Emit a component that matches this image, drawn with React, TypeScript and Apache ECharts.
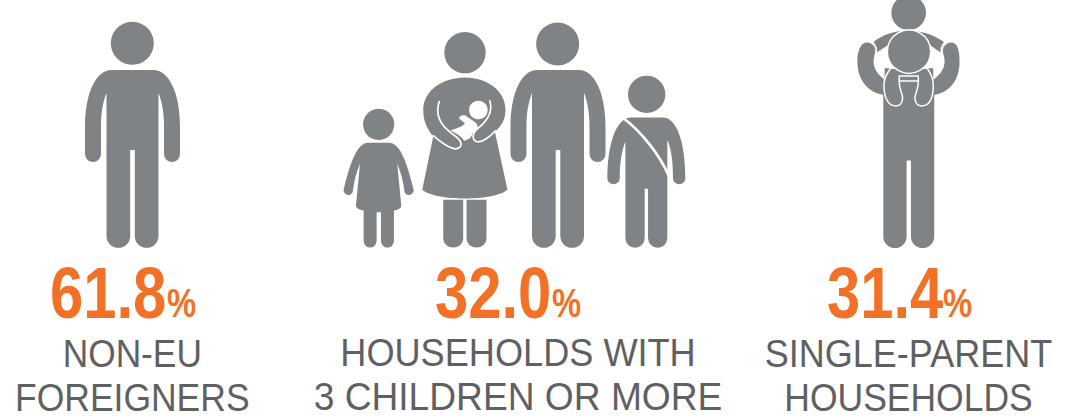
import React, { useEffect, useRef } from "react";
import * as echarts from "echarts";

const values = [61.8, 32.0, 31.4];
const unit = "%";
const labelsLine1 = ["NON-EU", "HOUSEHOLDS WITH", "SINGLE-PARENT"];
const labelsLine2 = ["FOREIGNERS", "3 CHILDREN OR MORE", "HOUSEHOLDS"];

const GREY = "#808385";
const ORANGE = "#f37126";
const TEXT = "#5f6062";
const WHITE = "#ffffff";

const numberX = [50, 435, 827];
const unitX = [167, 552, 943];
const labelCx = [132.3, 518, 908.5];
const line1Y = 353;
const line2Y = 397;
const line1Scale = [0.905, 0.927, 0.924];
const line2Scale = [0.91, 0.953, 0.91];

const ADULT =
  "M-21 70 L21 70 C36 70 47.5 92 47.5 127 L47.5 154 A8 8 0 0 1 31.5 154 L31.5 125 C31.5 112 29 100 26 93 L26 236 A11.85 11.85 0 0 1 2.3 236 L2.3 150 L-2.3 150 L-2.3 236 A11.85 11.85 0 0 1 -26 236 L-26 93 C-29 100 -31.5 112 -31.5 125 L-31.5 154 A8 8 0 0 1 -47.5 154 L-47.5 127 C-47.5 92 -36 70 -21 70 Z";
const GIRL =
  "M100 384 L162 384 C195 384 215 440 235 520 A13 13 0 0 1 209 532 C205 500 197 470 187 447 L199 572 Q200 583 177 587 L177 679 A19.5 19.5 0 0 1 138 679 L138 592 L125 592 L125 679 A19.5 19.5 0 0 1 86 679 L86 587 Q62 583 63 572 L75 447 C65 470 57 500 53 532 A13 13 0 0 1 27 520 C47 440 67 384 100 384 Z";
const MOTHER =
  "M390 188 C460 188 512 230 512 285 C512 315 498 335 480 350 L518 525 C480 560 300 560 262 525 L295 365 C275 340 265 315 265 285 C265 230 320 188 390 188 Z";
const MOTHER_LEGS =
  "M325 555 L385 555 L385 672 A30 26 0 0 1 325 672 Z M395 555 L455 555 L455 672 A30 26 0 0 1 395 672 Z";
const MOTHER_ARM_L = "M313 260 C300 300 315 330 350 355 C365 365 382 380 378 392 C370 410 345 405 295 362";
const MOTHER_ARM_R = "M465 258 C475 290 460 315 430 340 C412 355 410 375 425 380 C440 385 465 365 482 348";
const BABY =
  "M372 310 Q378 298 392 302 L425 325 L430 340 C415 350 410 365 405 370 L388 378 C380 365 365 355 347 347 C365 340 385 335 390 325 Z";
const BOY =
  "M890 308 L985 308 C1025 308 1052 380 1052 490 A18.5 18.5 0 0 1 1015 490 C1015 440 1010 400 998 375 L998 670 A29 29 0 0 1 940 670 L940 522 L930 522 L930 670 A29 29 0 0 1 872 670 L872 380 C860 410 855 450 855 490 A18.5 18.5 0 0 1 818 490 C818 400 840 308 890 308 Z";
const BOY_SASH = "M866 310 C920 350 975 420 1002 482";
const BOY_SLIT = "M866 420 L864 492";
const LIFT_BODY =
  "M100 285 C60 280 22 245 22 185 C22 160 30 128 50 128 C70 128 80 145 74 165 C66 190 72 215 104 240 L104 205 L250 205 L250 240 C283 215 289 190 281 165 C275 145 285 128 305 128 C325 128 329 160 329 185 C329 245 295 280 253 285 L253 710 A35 35 0 0 1 183 710 L183 482 L170 482 L170 710 A35 35 0 0 1 100 710 Z";
const LIFT_ARCH = "M68 128 C100 100 140 92 177 92 C215 92 255 105 285 128 L272 158 L240 135 L115 135 L80 158 Z";
const LIFT_GAP = "M68 126 C80 140 82 150 76 168 M285 126 C273 140 271 150 277 168";
const LIFT_LEGS =
  "M122 205 C108 225 100 240 102 265 C105 300 118 318 138 318 C155 318 162 300 155 280 C148 262 146 250 148 228 L205 228 C207 250 205 262 198 280 C191 300 198 318 215 318 C235 318 248 300 250 265 C252 240 245 225 232 205 Z";
const LIFT_BAND = "M148 243 L205 243";

const shapes: Record<string, string> = {
  adult: ADULT, girl: GIRL, mother: MOTHER, motherLegs: MOTHER_LEGS,
  mArmL: MOTHER_ARM_L, mArmR: MOTHER_ARM_R, baby: BABY, boy: BOY,
  sash: BOY_SASH, slit: BOY_SLIT, liftBody: LIFT_BODY, liftArch: LIFT_ARCH,
  liftGap: LIFT_GAP, liftLegs: LIFT_LEGS, liftBand: LIFT_BAND,
};
Object.keys(shapes).forEach((k) => {
  echarts.graphic.registerShape(k, echarts.graphic.extendPath(shapes[k], {}) as any);
});

const fill = (type: string, x: number, y: number, s = 1) => ({
  type, x, y, scaleX: s, scaleY: s, silent: true, style: { fill: GREY },
});
const line = (type: string, x: number, y: number, s: number, w: number, color = WHITE) => ({
  type, x, y, scaleX: s, scaleY: s, silent: true,
  style: { fill: "none", stroke: color, lineWidth: w, lineCap: "round" },
});
const disc = (cx: number, cy: number, r: number, color = GREY, stroke?: string, lw = 0) => ({
  type: "circle", silent: true, shape: { cx, cy, r },
  style: { fill: color, stroke: stroke || "none", lineWidth: lw },
});

function icons(): any[] {
  const z = 1 / 3;
  const fx = 335, fy = 15;
  const lx = 850, ly = 0;
  return [
    disc(132.3, 43.3, 21.5),
    fill("adult", 132.5, 0),
    disc(fx + 131 * z, fy + 328 * z, 47 * z),
    fill("girl", fx, fy, z),
    disc(fx + 390 * z, fy + 113 * z, 62 * z),
    fill("motherLegs", fx, fy, z),
    fill("mother", fx, fy, z),
    line("mArmL", fx, fy, z, 5),
    line("mArmR", fx, fy, z, 5),
    { type: "baby", x: fx, y: fy, scaleX: z, scaleY: z, silent: true, style: { fill: WHITE } },
    disc(fx + 430 * z, fy + 285 * z, 28 * z, WHITE),
    disc(fx + 668 * z, fy + 87 * z, 64.5 * z),
    fill("adult", 558, 0),
    disc(fx + 935 * z, fy + 238 * z, 56 * z),
    fill("boy", fx, fy, z),
    line("sash", fx, fy, z, 8),
    line("slit", fx, fy, z, 3),
    disc(lx + 176 * z, ly + 38 * z, 52 * z),
    fill("liftArch", lx, ly, z),
    fill("liftBody", lx, ly, z),
    line("liftGap", lx, ly, z, 4.5),
    { type: "liftLegs", x: lx, y: ly, scaleX: z, scaleY: z, silent: true, style: { fill: GREY, stroke: WHITE, lineWidth: 4.5 } },
    line("liftBand", lx, ly, z, 4.5),
    disc(lx + 177 * z, ly + 155 * z, 65 * z, GREY, WHITE, 1.5),
  ];
}

function texts(): any[] {
  const out: any[] = [];
  values.forEach((v, i) => {
    out.push({
      type: "text", x: numberX[i], y: 293, scaleX: 0.83, silent: true,
      style: {
        text: v.toFixed(1), fill: ORANGE, fontFamily: "Liberation Sans",
        fontWeight: "bold", fontSize: 72, textAlign: "left", textVerticalAlign: "middle",
      },
    });
    out.push({
      type: "text", x: unitX[i], y: 303, scaleX: 0.82, silent: true,
      style: {
        text: unit, fill: ORANGE, fontFamily: "Liberation Sans",
        fontWeight: "bold", fontSize: 40, textAlign: "left", textVerticalAlign: "middle",
      },
    });
    [labelsLine1[i], labelsLine2[i]].forEach((t, j) => {
      out.push({
        type: "text", x: labelCx[i], y: j === 0 ? line1Y : line2Y,
        scaleX: j === 0 ? line1Scale[i] : line2Scale[i], silent: true,
        style: {
          text: t, fill: TEXT, fontFamily: "Liberation Sans", fontSize: 39,
          textAlign: "center", textVerticalAlign: "middle",
        },
      });
    });
  });
  return out;
}

export default function App() {
  const ref = useRef<HTMLDivElement>(null);
  useEffect(() => {
    document.body.style.margin = "0";
    const chart = echarts.init(ref.current!, undefined, { renderer: "svg" });
    chart.setOption({
      animation: false,
      backgroundColor: "#ffffff",
      graphic: { elements: [...icons(), ...texts()] },
    });
    return () => chart.dispose();
  }, []);
  return <div ref={ref} style={{ width: 1077, height: 419 }} />;
}
